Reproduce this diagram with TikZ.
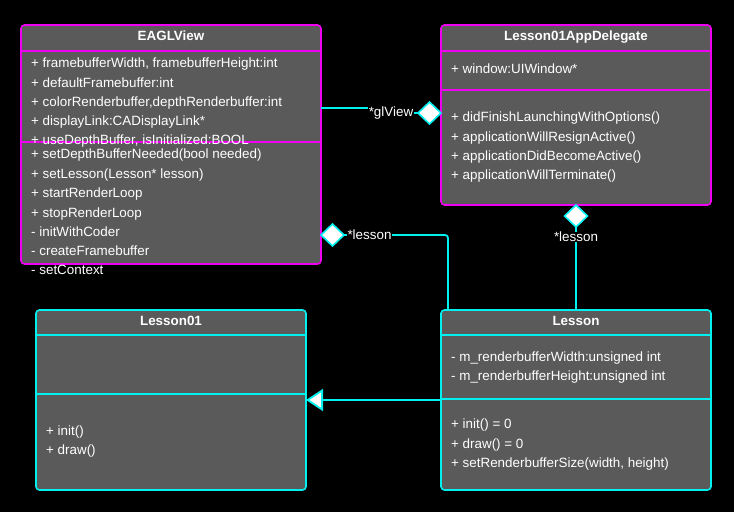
\documentclass[tikz,border=0pt]{standalone}
\usepackage{fontspec}
\setmainfont{Liberation Sans}
\usetikzlibrary{shapes.geometric,arrows.meta}
\definecolor{boxgray}{RGB}{90,90,90}
\definecolor{mag}{RGB}{240,0,240}
\definecolor{cy}{RGB}{0,240,240}
\tikzset{
  umlbox/.style={draw, fill=boxgray, line width=1.6pt, rounded corners=3.5pt, inner sep=0, outer sep=0},
  magbox/.style={umlbox, draw=mag},
  cybox/.style={umlbox, draw=cy},
  sepline/.style={line width=1.3pt},
  txt/.style={anchor=base west, inner sep=0, text=white, font=\fontsize{13.4}{15}\selectfont},
  ttl/.style={anchor=base, inner sep=0, text=white, font=\fontsize{13.4}{15}\selectfont\bfseries},
  conn/.style={draw=cy, line width=1.8pt, rounded corners=3pt},
  agg/.style={diamond, draw=cy, fill=white, line width=1.6pt, minimum width=23pt, minimum height=22pt, inner sep=0, outer sep=0},
  lbl/.style={inner sep=0.5pt, fill=black, text=white, font=\fontsize{13.4}{15}\selectfont},
}
\begin{document}
\begin{tikzpicture}[x=1pt,y=-1pt]
\useasboundingbox[fill=black] (0,0) rectangle (734,512);
% boxes
\node[magbox, minimum width=300pt, minimum height=239pt] (eagl) at (171,144.5) {};
\node[magbox, minimum width=270pt, minimum height=180pt] (app) at (576,115) {};
\node[cybox, minimum width=270pt, minimum height=180pt] (l01) at (171,400) {};
\node[cybox, minimum width=270pt, minimum height=180pt] (les) at (576,400) {};
% separators
\draw[sepline, mag] (eagl.west |- 0,51) -- (eagl.east |- 0,51);
\draw[sepline, mag] (eagl.west |- 0,142) -- (eagl.east |- 0,142);
\draw[sepline, mag] (app.west |- 0,51) -- (app.east |- 0,51);
\draw[sepline, mag] (app.west |- 0,90) -- (app.east |- 0,90);
\draw[sepline, cy] (l01.west |- 0,335) -- (l01.east |- 0,335);
\draw[sepline, cy] (l01.west |- 0,394) -- (l01.east |- 0,394);
\draw[sepline, cy] (les.west |- 0,335) -- (les.east |- 0,335);
\draw[sepline, cy] (les.west |- 0,399) -- (les.east |- 0,399);
% EAGLView text
\node[ttl] (et) at (171,40.7) {EAGLView};
\node[txt] (e1) at (31,67.7) {+ framebufferWidth, framebufferHeight:int};
\node[txt] (e2) at (31,87.2) {+ defaultFramebuffer:int};
\node[txt] (e3) at (31,106.4) {+ colorRenderbuffer,depthRenderbuffer:int};
\node[txt] (e4) at (31,125.9) {+ displayLink:CADisplayLink*};
\node[txt] (e5) at (31,144.7) {+ useDepthBuffer, isInitialized:BOOL};
\node[txt] (e6) at (31,158.9) {+ setDepthBufferNeeded(bool needed)};
\node[txt] (e7) at (31,178.4) {+ setLesson(Lesson* lesson)};
\node[txt] (e8) at (31,197.6) {+ startRenderLoop};
\node[txt] (e9) at (31,217) {+ stopRenderLoop};
\node[txt] (e10) at (31,236.4) {- initWithCoder};
\node[txt] (e11) at (31,255.6) {- createFramebuffer};
\node[txt] (e12) at (31,274.9) {- setContext};
% AppDelegate text
\node[ttl] (at) at (576,40.7) {Lesson01AppDelegate};
\node[txt] (a1) at (451,73.7) {+ window:UIWindow*};
\node[txt] (a2) at (451,121.4) {+ didFinishLaunchingWithOptions()};
\node[txt] (a3) at (451,141) {+ applicationWillResignActive()};
\node[txt] (a4) at (451,160) {+ applicationDidBecomeActive()};
\node[txt] (a5) at (451,179.4) {+ applicationWillTerminate()};
% Lesson01 text
\node[ttl] (l01t) at (171,325.7) {Lesson01};
\node[txt] (m1) at (46,435.4) {+ init()};
\node[txt] (m2) at (46,454.7) {+ draw()};
% Lesson text
\node[ttl] (lest) at (576,325.7) {Lesson};
\node[txt] (s1) at (451,361.4) {- m\_renderbufferWidth:unsigned int};
\node[txt] (s2) at (451,380.7) {- m\_renderbufferHeight:unsigned int};
\node[txt] (s3) at (451,428.7) {+ init() = 0};
\node[txt] (s4) at (451,448) {+ draw() = 0};
\node[txt] (s5) at (451,467.4) {+ setRenderbufferSize(width, height)};
% connectors
\node[agg] (d1) at (429.5,113) {};
\node[agg] (d2) at (332.5,235) {};
\node[agg] (d3) at (576,216) {};
\draw[conn] (eagl.east |- 0,108) -- (380,108) -- (380,113) -- (d1.west);
\node[lbl] (lg) at (391,113) {*glView};
\draw[conn] (d2.east) -- (448,235) -- (448,0 |- les.north);
\node[lbl] (ll1) at (369.5,235) {*lesson};
\draw[conn] (d3.south) -- (les.north);
\node[lbl] (ll2) at (576,237) {*lesson};
\draw[conn, -{Triangle[length=17pt, width=22pt, fill=white]}] (les.west) -- (l01.east);
\end{tikzpicture}
\end{document}
